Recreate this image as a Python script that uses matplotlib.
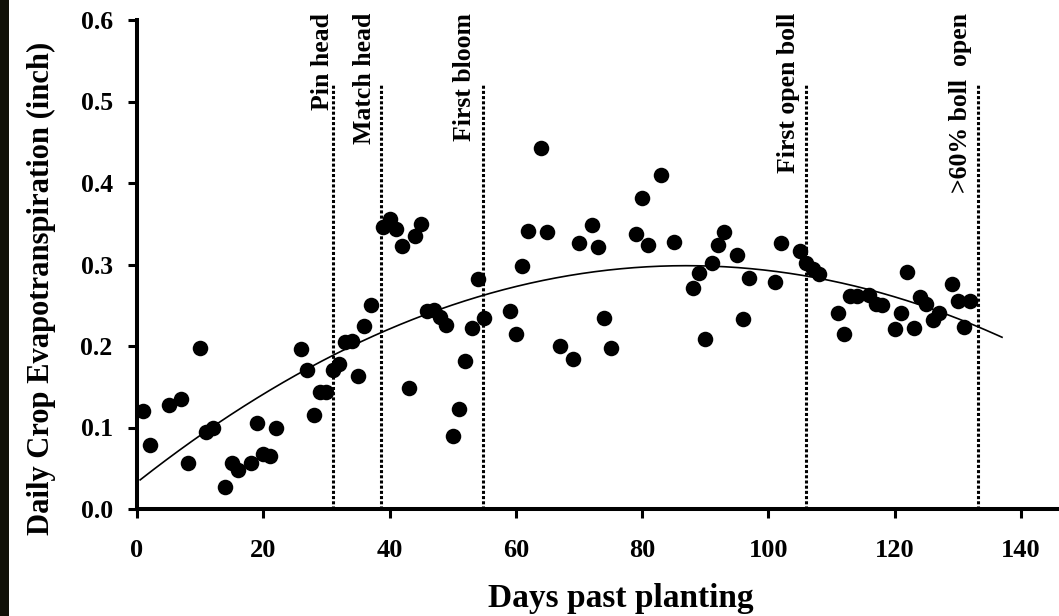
import numpy as np
import matplotlib
matplotlib.use("Agg")
import matplotlib.pyplot as plt
from matplotlib.patches import Rectangle

plt.rcParams['font.family'] = ['Liberation Serif', 'DejaVu Serif']
plt.rcParams['font.weight'] = 'bold'

days = [1, 2, 5, 7, 8, 10, 11, 12, 14, 15, 16, 18, 19, 20, 21, 22, 26, 27, 28, 29,
        30, 31, 32, 33, 34, 35, 36, 37, 39, 40, 41, 42, 43, 44, 45, 46, 47, 48, 49, 50,
        51, 52, 53, 54, 55, 59, 60, 61, 62, 64, 65, 67, 69, 70, 72, 73, 74, 75, 79, 80,
        81, 83, 85, 88, 89, 90, 91, 92, 93, 95, 96, 97, 101, 102, 105, 106, 107, 108,
        111, 112, 113, 114, 116, 117, 118, 120, 121, 122, 123, 124, 125, 126, 127, 129,
        130, 131, 132]
et = [0.120, 0.078, 0.127, 0.135, 0.057, 0.198, 0.094, 0.100, 0.027, 0.057, 0.048,
      0.057, 0.106, 0.067, 0.065, 0.099, 0.196, 0.170, 0.115, 0.144, 0.144, 0.171,
      0.178, 0.205, 0.206, 0.163, 0.224, 0.250, 0.346, 0.356, 0.344, 0.323, 0.149,
      0.335, 0.350, 0.243, 0.244, 0.235, 0.226, 0.090, 0.123, 0.182, 0.222, 0.282,
      0.234, 0.243, 0.215, 0.298, 0.341, 0.443, 0.340, 0.200, 0.184, 0.326, 0.349,
      0.322, 0.234, 0.198, 0.337, 0.382, 0.324, 0.410, 0.327, 0.271, 0.290, 0.209,
      0.302, 0.324, 0.340, 0.312, 0.233, 0.283, 0.278, 0.326, 0.317, 0.302, 0.295,
      0.288, 0.241, 0.215, 0.261, 0.261, 0.263, 0.252, 0.250, 0.221, 0.240, 0.291,
      0.222, 0.260, 0.251, 0.232, 0.241, 0.276, 0.255, 0.223, 0.255]

stage_days = [31, 38.7, 54.8, 106, 133.2]
stage_labels = ["Pin head", "Match head", "First bloom", "First open boll", ">60% boll  open"]
stage_top = 0.52

x_ticks = [0, 20, 40, 60, 80, 100, 120, 140]
y_ticks = [0.0, 0.1, 0.2, 0.3, 0.4, 0.5, 0.6]

W, H = 1059, 616
fig = plt.figure(figsize=(W / 100, H / 100), dpi=100)
ax = fig.add_axes([137 / W, 1 - 509 / H, (W - 137) / W, (509 - 20) / H])

# dark strip artifact on the far left
fig.patches.append(Rectangle((0, 0), 9 / W, 1, transform=fig.transFigure,
                             facecolor='#111108', edgecolor='none'))

ax.scatter(days, et, s=125, color='black', zorder=3, linewidths=0)

coef = np.polyfit(days, et, 2)
xs = np.linspace(0.5, 137, 200)
ax.plot(xs, np.polyval(coef, xs), color='black', lw=1.2, zorder=2)

for d in stage_days:
    ax.plot([d, d], [0, stage_top], color='black', lw=2.2,
            linestyle=(0, (1, 0.7)), solid_capstyle='butt', zorder=1)

label_offsets = [1.7, 2.6, 3.0, 2.8, 2.8]
for d, lab, off in zip(stage_days, stage_labels, label_offsets):
    ax.text(d - off, 0.609, lab, rotation=90, ha='center', va='top',
            fontsize=18.5, fontweight='bold', clip_on=False)

ax.set_xlim(0, (W - 137) / 6.314)
ax.set_ylim(0, 0.6)
ax.set_xticks(x_ticks)
ax.set_xticklabels([str(t) for t in x_ticks])
ax.set_yticks(y_ticks)
ax.set_yticklabels([f"{t:.1f}" for t in y_ticks])

for s in ['top', 'right']:
    ax.spines[s].set_visible(False)
for s in ['left', 'bottom']:
    ax.spines[s].set_linewidth(2.9)
ax.tick_params(axis='both', direction='out', length=6.5, width=2.2)
ax.tick_params(axis='x', labelsize=19, pad=15)
ax.tick_params(axis='y', labelsize=18.5, pad=11)
for lab in ax.get_xticklabels() + ax.get_yticklabels():
    lab.set_fontweight('bold')

fig.text(41 / W, 1 - 288 / H, "Daily Crop Evapotranspiration (inch)", rotation=90,
         ha='center', va='center', fontsize=22, fontweight='bold')
fig.text(621 / W, 1 - 599 / H, "Days past planting", ha='center', va='center',
         fontsize=24, fontweight='bold')

fig.savefig("out.png", dpi=100)
